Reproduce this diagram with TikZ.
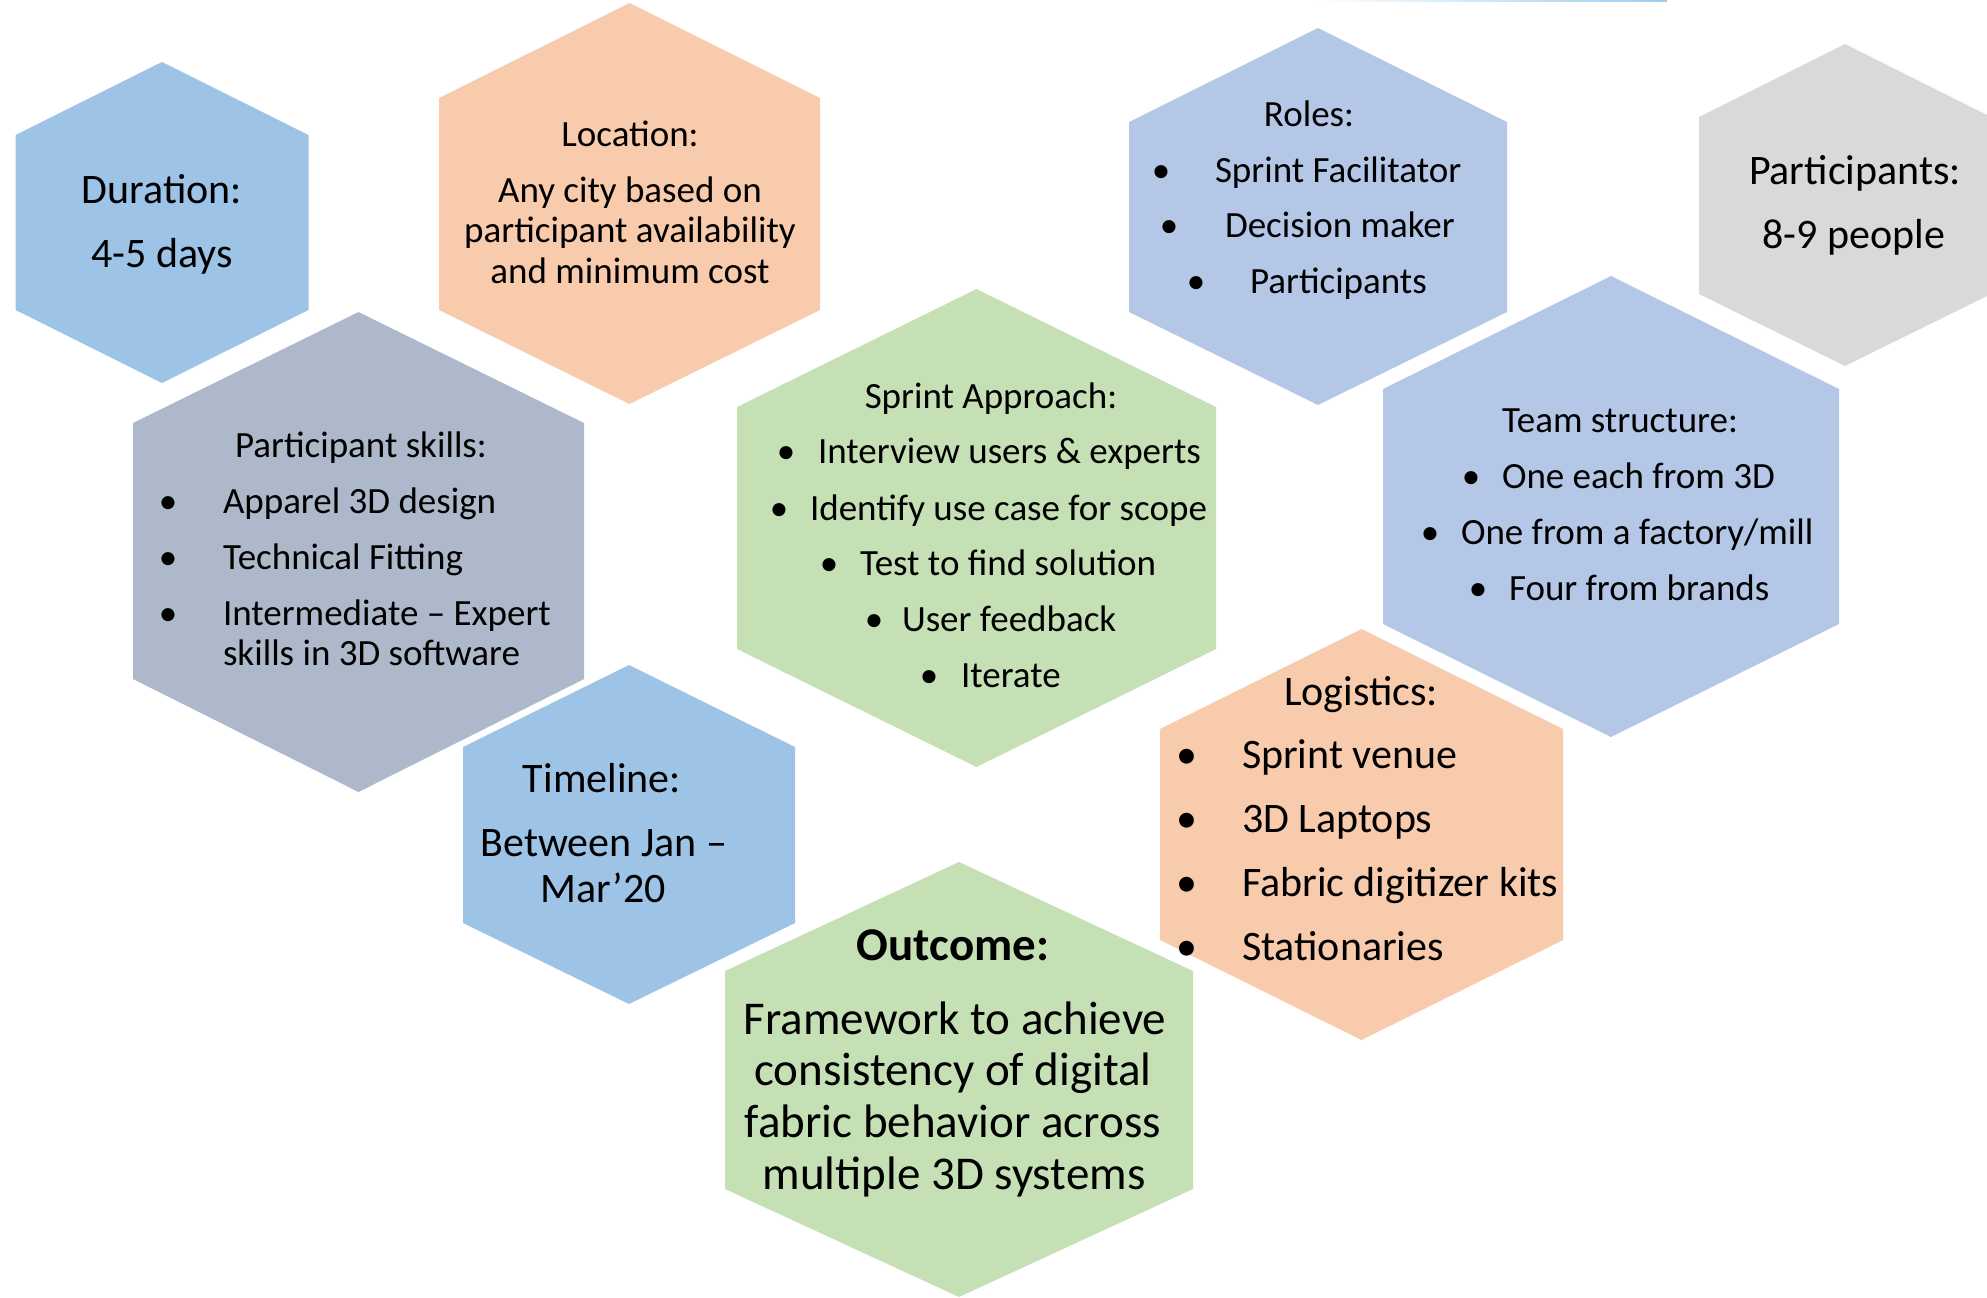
\documentclass[tikz,border=0pt]{standalone}
\usepackage{fontspec}
\setmainfont{Carlito}
\definecolor{hblue}{HTML}{9DC3E6}
\definecolor{horange}{HTML}{F8CBAD}
\definecolor{hslate}{HTML}{ADB9CA}
\definecolor{hgreen}{HTML}{C5E0B4}
\definecolor{hlav}{HTML}{B4C7E7}
\definecolor{hgray}{HTML}{D9D9D9}
\definecolor{topline}{RGB}{157,205,240}
\newcommand\hexshape[7]{\fill[#7] (#1,#3) -- (#1+#2,#4) -- (#1+#2,#5) -- (#1,#6) -- (#1-#2,#5) -- (#1-#2,#4) -- cycle;}
\tikzset{
  sm/.style={inner sep=0pt, outer sep=0pt, anchor=base, font=\fontsize{18.5}{22}\selectfont},
  smL/.style={sm, anchor=base west},
  bg/.style={inner sep=0pt, outer sep=0pt, anchor=base, font=\fontsize{21}{25}\selectfont},
  bgL/.style={bg, anchor=base west},
  oc/.style={inner sep=0pt, outer sep=0pt, anchor=base, font=\fontsize{23.5}{28}\selectfont},
  ocb/.style={oc, font=\fontsize{23.5}{28}\selectfont\bfseries},
}
\begin{document}
\begin{tikzpicture}[x=0.5pt,y=-0.5pt]
\useasboundingbox (0,0) rectangle (1987,1297);
\clip (0,0) rectangle (1987,1297);
% top thin line
\shade[left color=white, right color=topline] (1310,0) rectangle (1667,1.6);
% hexagons
\hexshape{162}{146.5}{62}{135}{310}{383}{hblue}
\hexshape{629.5}{190.5}{3}{98}{310}{404}{horange}
\hexshape{358.5}{225.5}{312}{423}{679}{792}{hslate}
\hexshape{976.5}{239.5}{289}{407}{649}{767}{hgreen}
\hexshape{1318}{189}{28}{122}{312}{405}{hlav}
\hexshape{1845}{146}{44}{117}{294}{366}{hgray}
\hexshape{1611}{228}{276}{389}{624}{737}{hlav}
\hexshape{1361.5}{201.5}{629}{729}{940}{1040}{horange}
\hexshape{629}{166}{665}{747}{923}{1004}{hblue}
\hexshape{959}{234}{862}{971}{1189}{1297}{hgreen}
% Duration
\node[bg] (dur1) at (162,203) {Duration:};
\node[bg] (dur2) at (162,267) {4-5 days};
% Location
\node[sm] (loc1) at (630,146) {Location:};
\node[sm] (loc2) at (630,202) {Any city based on};
\node[sm] (loc3) at (630,242) {participant availability};
\node[sm] (loc4) at (630,283) {and minimum cost};
% Roles
\node[sm] (rol0) at (1309,126) {Roles:};
\node[sm] (rolb1) at (1161,182) {•};
\node[smL] (rol1) at (1215,182) {Sprint Facilitator};
\node[sm] (rolb2) at (1169,237) {•};
\node[smL] (rol2) at (1225,237) {Decision maker};
\node[sm] (rolb3) at (1196,293) {•};
\node[smL] (rol3) at (1250,293) {Participants};
% Participants
\node[bg] (par1) at (1855,184) {Participants:};
\node[bg] (par2) at (1854,248) {8-9 people};
% Participant skills
\node[sm] (ski0) at (361,457) {Participant skills:};
\node[sm] (skib1) at (168,513) {•};
\node[smL] (ski1) at (223,513) {Apparel 3D design};
\node[sm] (skib2) at (168,569) {•};
\node[smL] (ski2) at (223,569) {Technical Fitting};
\node[sm] (skib3) at (168,625) {•};
\node[smL] (ski3) at (223,625) {Intermediate – Expert};
\node[smL] (ski4) at (223,665) {skills in 3D software};
% Sprint approach
\node[sm] (spr0) at (991,408) {Sprint Approach:};
\node[sm] (sprb1) at (786,463) {•};
\node[smL] (spr1) at (818,463) {Interview users \& experts};
\node[sm] (sprb2) at (779,520) {•};
\node[smL] (spr2) at (810,520) {Identify use case for scope};
\node[sm] (sprb3) at (829,575) {•};
\node[smL] (spr3) at (860,575) {Test to find solution};
\node[sm] (sprb4) at (874,631) {•};
\node[smL] (spr4) at (902,631) {User feedback};
\node[sm] (sprb5) at (929,687) {•};
\node[smL] (spr5) at (961,687) {Iterate};
% Team structure
\node[sm] (tea0) at (1620,432) {Team structure:};
\node[sm] (teab1) at (1471,488) {•};
\node[smL] (tea1) at (1502,488) {One each from 3D};
\node[sm] (teab2) at (1430,544) {•};
\node[smL] (tea2) at (1461,544) {One from a factory/mill};
\node[sm] (teab3) at (1478,600) {•};
\node[smL] (tea3) at (1509,600) {Four from brands};
% Logistics
\node[bg] (log0) at (1361,705) {Logistics:};
\node[bg] (logb1) at (1187,768) {•};
\node[bgL] (log1) at (1242,768) {Sprint venue};
\node[bg] (logb2) at (1187,832) {•};
\node[bgL] (log2) at (1242,832) {3D Laptops};
\node[bg] (logb3) at (1187,896) {•};
\node[bgL] (log3) at (1242,896) {Fabric digitizer kits};
\node[bg] (logb4) at (1187,960) {•};
\node[bgL] (log4) at (1242,960) {Stationaries};
% Timeline
\node[bg] (tim1) at (602,792) {Timeline:};
\node[bg] (tim2) at (604,856) {Between Jan –};
\node[bg] (tim3) at (603,902) {Mar’20};
% Outcome
\node[ocb] (out0) at (953,960) {Outcome:};
\node[oc] (out1) at (955,1034) {Framework to achieve};
\node[oc] (out2) at (953,1085) {consistency of digital};
\node[oc] (out3) at (953,1137) {fabric behavior across};
\node[oc] (out4) at (954,1189) {multiple 3D systems};
\end{tikzpicture}
\end{document}
